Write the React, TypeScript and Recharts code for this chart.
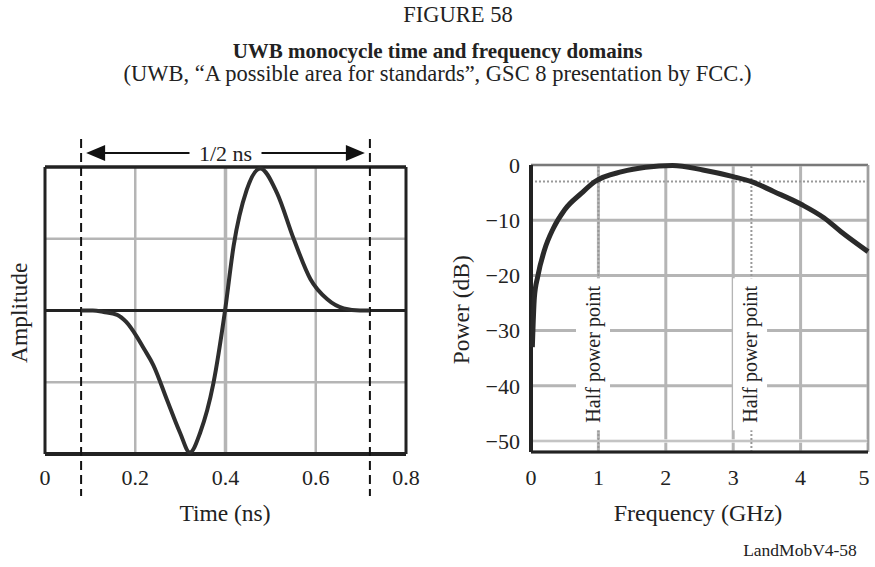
import React from 'react';
import { LineChart, Line, XAxis, YAxis, CartesianGrid, ReferenceLine, ReferenceDot } from 'recharts';

// time domain (monocycle)
const timeNs = [0.08, 0.106, 0.13, 0.16, 0.18, 0.203, 0.22, 0.24, 0.27, 0.299, 0.321, 0.344, 0.373, 0.399, 0.418, 0.447, 0.477, 0.514, 0.551, 0.588, 0.625, 0.662, 0.698, 0.72];
const amplitude = [0, 0, -0.01, -0.03, -0.08, -0.18, -0.27, -0.38, -0.62, -0.85, -0.99, -0.85, -0.51, 0, 0.45, 0.84, 0.99, 0.82, 0.5, 0.22, 0.08, 0.015, 0, 0];
const timeTicks = [0, 0.2, 0.4, 0.6, 0.8];
const pulseWindow = [0.08, 0.72];

// frequency domain
const freqGHz = [0.02, 0.05, 0.1, 0.2, 0.33, 0.5, 0.75, 0.95, 1.35, 1.7, 2.1, 2.55, 3.0, 3.27, 3.6, 4.02, 4.35, 4.6, 5.0];
const powerDb = [-33, -24, -20.2, -15.4, -11.5, -8.1, -5.1, -3.0, -1.2, -0.4, -0.1, -0.9, -2.1, -3.0, -4.8, -7.2, -9.6, -12.1, -15.7];
const freqTicks = [0, 1, 2, 3, 4, 5];
const powerTicks = [0, -10, -20, -30, -40, -50];
const halfPowerFreqs = [1, 3.27];
const halfPowerLabelX = [0.92, 3.25];
const halfPowerDb = -3;

const pulseData = timeNs.map((t, i) => ({ t, a: amplitude[i] }));
const spectrumData = freqGHz.map((f, i) => ({ f, p: powerDb[i] }));

const FONT = '"Liberation Serif", "Times New Roman", serif';
const GRID = '#b5b5b5';
const INK = '#222';
const tickStyle = { fontSize: 22, fill: INK, fontFamily: FONT };

const minus = (v: number) => (v < 0 ? `\u2212${-v}` : `${v}`);

// last frequency label sits a little inside the frame, as in the original
function FreqTick(props: any) {
  const { x, y, payload } = props;
  const shift = payload.value === freqTicks[freqTicks.length - 1] ? -4 : 0;
  return (
    <text x={x + shift} y={y} dy="0.71em" textAnchor="middle" fontSize={22} fontFamily={FONT} fill={INK}>
      {payload.value}
    </text>
  );
}

function HalfPowerLabel(props: any) {
  const { cx, cy } = props;
  return (
    <g>
      <rect x={cx - 17} y={cy - 76} width={34} height={152} fill="#fff" />
      <text
        x={cx}
        y={cy}
        transform={`rotate(-90 ${cx} ${cy})`}
        textAnchor="middle"
        dominantBaseline="central"
        fontSize={20}
        fontFamily={FONT}
        fill={INK}
      >
        Half power point
      </text>
    </g>
  );
}

function WindowArrow(props: any) {
  const { x1, x2, y1 } = props;
  const left = Math.min(x1, x2);
  const right = Math.max(x1, x2);
  const y = y1 - 14;
  const mid = (left + right) / 2;
  return (
    <g>
      <line x1={left + 20} x2={right - 20} y1={y} y2={y} stroke="#111" strokeWidth={2} />
      <polygon points={`${left + 5},${y} ${left + 24},${y - 8} ${left + 24},${y + 8}`} fill="#111" />
      <polygon points={`${right - 5},${y} ${right - 24},${y - 8} ${right - 24},${y + 8}`} fill="#111" />
      <rect x={mid - 36} y={y - 12} width={72} height={24} fill="#fff" />
      <text x={mid} y={y} textAnchor="middle" dominantBaseline="central" fontSize={22} fontFamily={FONT} fill={INK}>
        1/2 ns
      </text>
    </g>
  );
}

function DashedWindow(props: any) {
  const { x1, y1, y2 } = props;
  const top = Math.min(y1, y2);
  const bottom = Math.max(y1, y2);
  return <line x1={x1} x2={x1} y1={top - 28} y2={bottom + 42} stroke="#111" strokeWidth={2} strokeDasharray="9 5" />;
}

const text = (extra: React.CSSProperties): React.CSSProperties => ({
  position: 'absolute',
  fontFamily: FONT,
  color: INK,
  lineHeight: 1,
  whiteSpace: 'nowrap',
  ...extra,
});

export default function App() {
  return (
    <div style={{ position: 'absolute', left: 0, top: 0, width: 875, height: 567, background: '#fff', overflow: 'hidden' }}>
      <div style={text({ left: 358, width: 200, top: 4, textAlign: 'center', fontSize: 22.5 })}>FIGURE 58</div>
      <div style={text({ left: 0, width: 875, top: 41, textAlign: 'center', fontSize: 21, fontWeight: 'bold' })}>
        UWB monocycle time and frequency domains
      </div>
      <div style={text({ left: 0, width: 875, top: 63, textAlign: 'center', fontSize: 22.5 })}>
        (UWB, “A possible area for standards”, GSC 8 presentation by FCC.)
      </div>

      {/* time domain */}
      <div style={{ position: 'absolute', left: 0, top: 130 }}>
        <LineChart width={420} height={400} data={pulseData} margin={{ top: 37, right: 14, left: 45, bottom: 0 }}>
          <XAxis
            dataKey="t"
            type="number"
            domain={[0, 0.8]}
            ticks={timeTicks}
            axisLine={false}
            tickLine={false}
            tickMargin={9}
            height={76}
            tick={tickStyle}
          />
          <YAxis hide width={0} type="number" domain={[-1, 1]} />
          <ReferenceLine x={0.2} stroke={GRID} strokeWidth={2.5} />
          <ReferenceLine x={0.4} stroke={GRID} strokeWidth={3.5} />
          <ReferenceLine x={0.6} stroke={GRID} strokeWidth={2.5} />
          <ReferenceLine y={0.5} stroke={GRID} strokeWidth={2.5} />
          <ReferenceLine y={-0.5} stroke={GRID} strokeWidth={2.5} />
          <ReferenceLine y={0} stroke="#222" strokeWidth={3} />
          <ReferenceLine y={1} stroke="#222" strokeWidth={3.5} />
          <ReferenceLine y={-1} stroke="#222" strokeWidth={4} />
          <ReferenceLine x={0} stroke="#222" strokeWidth={3} />
          <ReferenceLine x={0.8} stroke="#222" strokeWidth={3} />
          {pulseWindow.map((x) => (
            <ReferenceLine key={x} x={x} ifOverflow="visible" shape={DashedWindow} />
          ))}
          <ReferenceLine
            segment={[{ x: pulseWindow[0], y: 1 }, { x: pulseWindow[1], y: 1 }]}
            ifOverflow="visible"
            shape={WindowArrow}
          />
          <Line type="monotone" dataKey="a" stroke="#2e2e2e" strokeWidth={4} dot={false} isAnimationActive={false} />
        </LineChart>
      </div>
      <div style={text({ left: 125, width: 200, top: 502, textAlign: 'center', fontSize: 23.5 })}>Time (ns)</div>
      <div style={text({ left: -80, width: 200, top: 301, textAlign: 'center', fontSize: 23.5, transform: 'rotate(-90deg)' })}>
        Amplitude
      </div>

      {/* frequency domain */}
      <div style={{ position: 'absolute', left: 440, top: 130 }}>
        <LineChart width={435} height={400} data={spectrumData} margin={{ top: 35, right: 7, left: 0, bottom: 0 }}>
          <CartesianGrid stroke={GRID} strokeWidth={3} />
          <XAxis
            dataKey="f"
            type="number"
            domain={[0, 5]}
            ticks={freqTicks}
            axisLine={false}
            tickLine={false}
            tickMargin={11}
            height={78}
            tick={FreqTick}
            interval={0}
          />
          <YAxis
            type="number"
            domain={[-52, 0]}
            ticks={powerTicks}
            axisLine={false}
            tickLine={false}
            tickMargin={5}
            width={91}
            tick={tickStyle}
            tickFormatter={minus}
          />
          <ReferenceLine y={-50} stroke="#fff" strokeWidth={3} />
          <ReferenceLine y={-50} stroke="#c4c4c4" strokeWidth={2} />
          <ReferenceLine y={halfPowerDb} stroke="#999" strokeWidth={2} strokeDasharray="2 2" />
          {halfPowerFreqs.map((x) => (
            <ReferenceLine key={x} x={x} stroke="#999" strokeWidth={2} strokeDasharray="2 2" />
          ))}
          {halfPowerLabelX.map((x) => (
            <ReferenceDot key={x} x={x} y={-34.3} ifOverflow="visible" shape={HalfPowerLabel} />
          ))}
          <ReferenceLine y={0} stroke="#666" strokeWidth={1.5} />
          <ReferenceLine x={5} stroke="#999" strokeWidth={1.5} />
          <ReferenceLine y={-52} stroke="#222" strokeWidth={3} />
          <ReferenceLine x={0} stroke="#222" strokeWidth={4} />
          <Line type="monotone" dataKey="p" stroke="#2a2a2a" strokeWidth={5} dot={false} isAnimationActive={false} />
        </LineChart>
      </div>
      <div style={text({ left: 598, width: 200, top: 501, textAlign: 'center', fontSize: 24 })}>Frequency (GHz)</div>
      <div style={text({ left: 362, width: 200, top: 298, textAlign: 'center', fontSize: 23.5, transform: 'rotate(-90deg)' })}>
        Power (dB)
      </div>

      <div style={text({ left: 700, width: 200, top: 542, textAlign: 'center', fontSize: 17.5 })}>LandMobV4-58</div>
    </div>
  );
}
